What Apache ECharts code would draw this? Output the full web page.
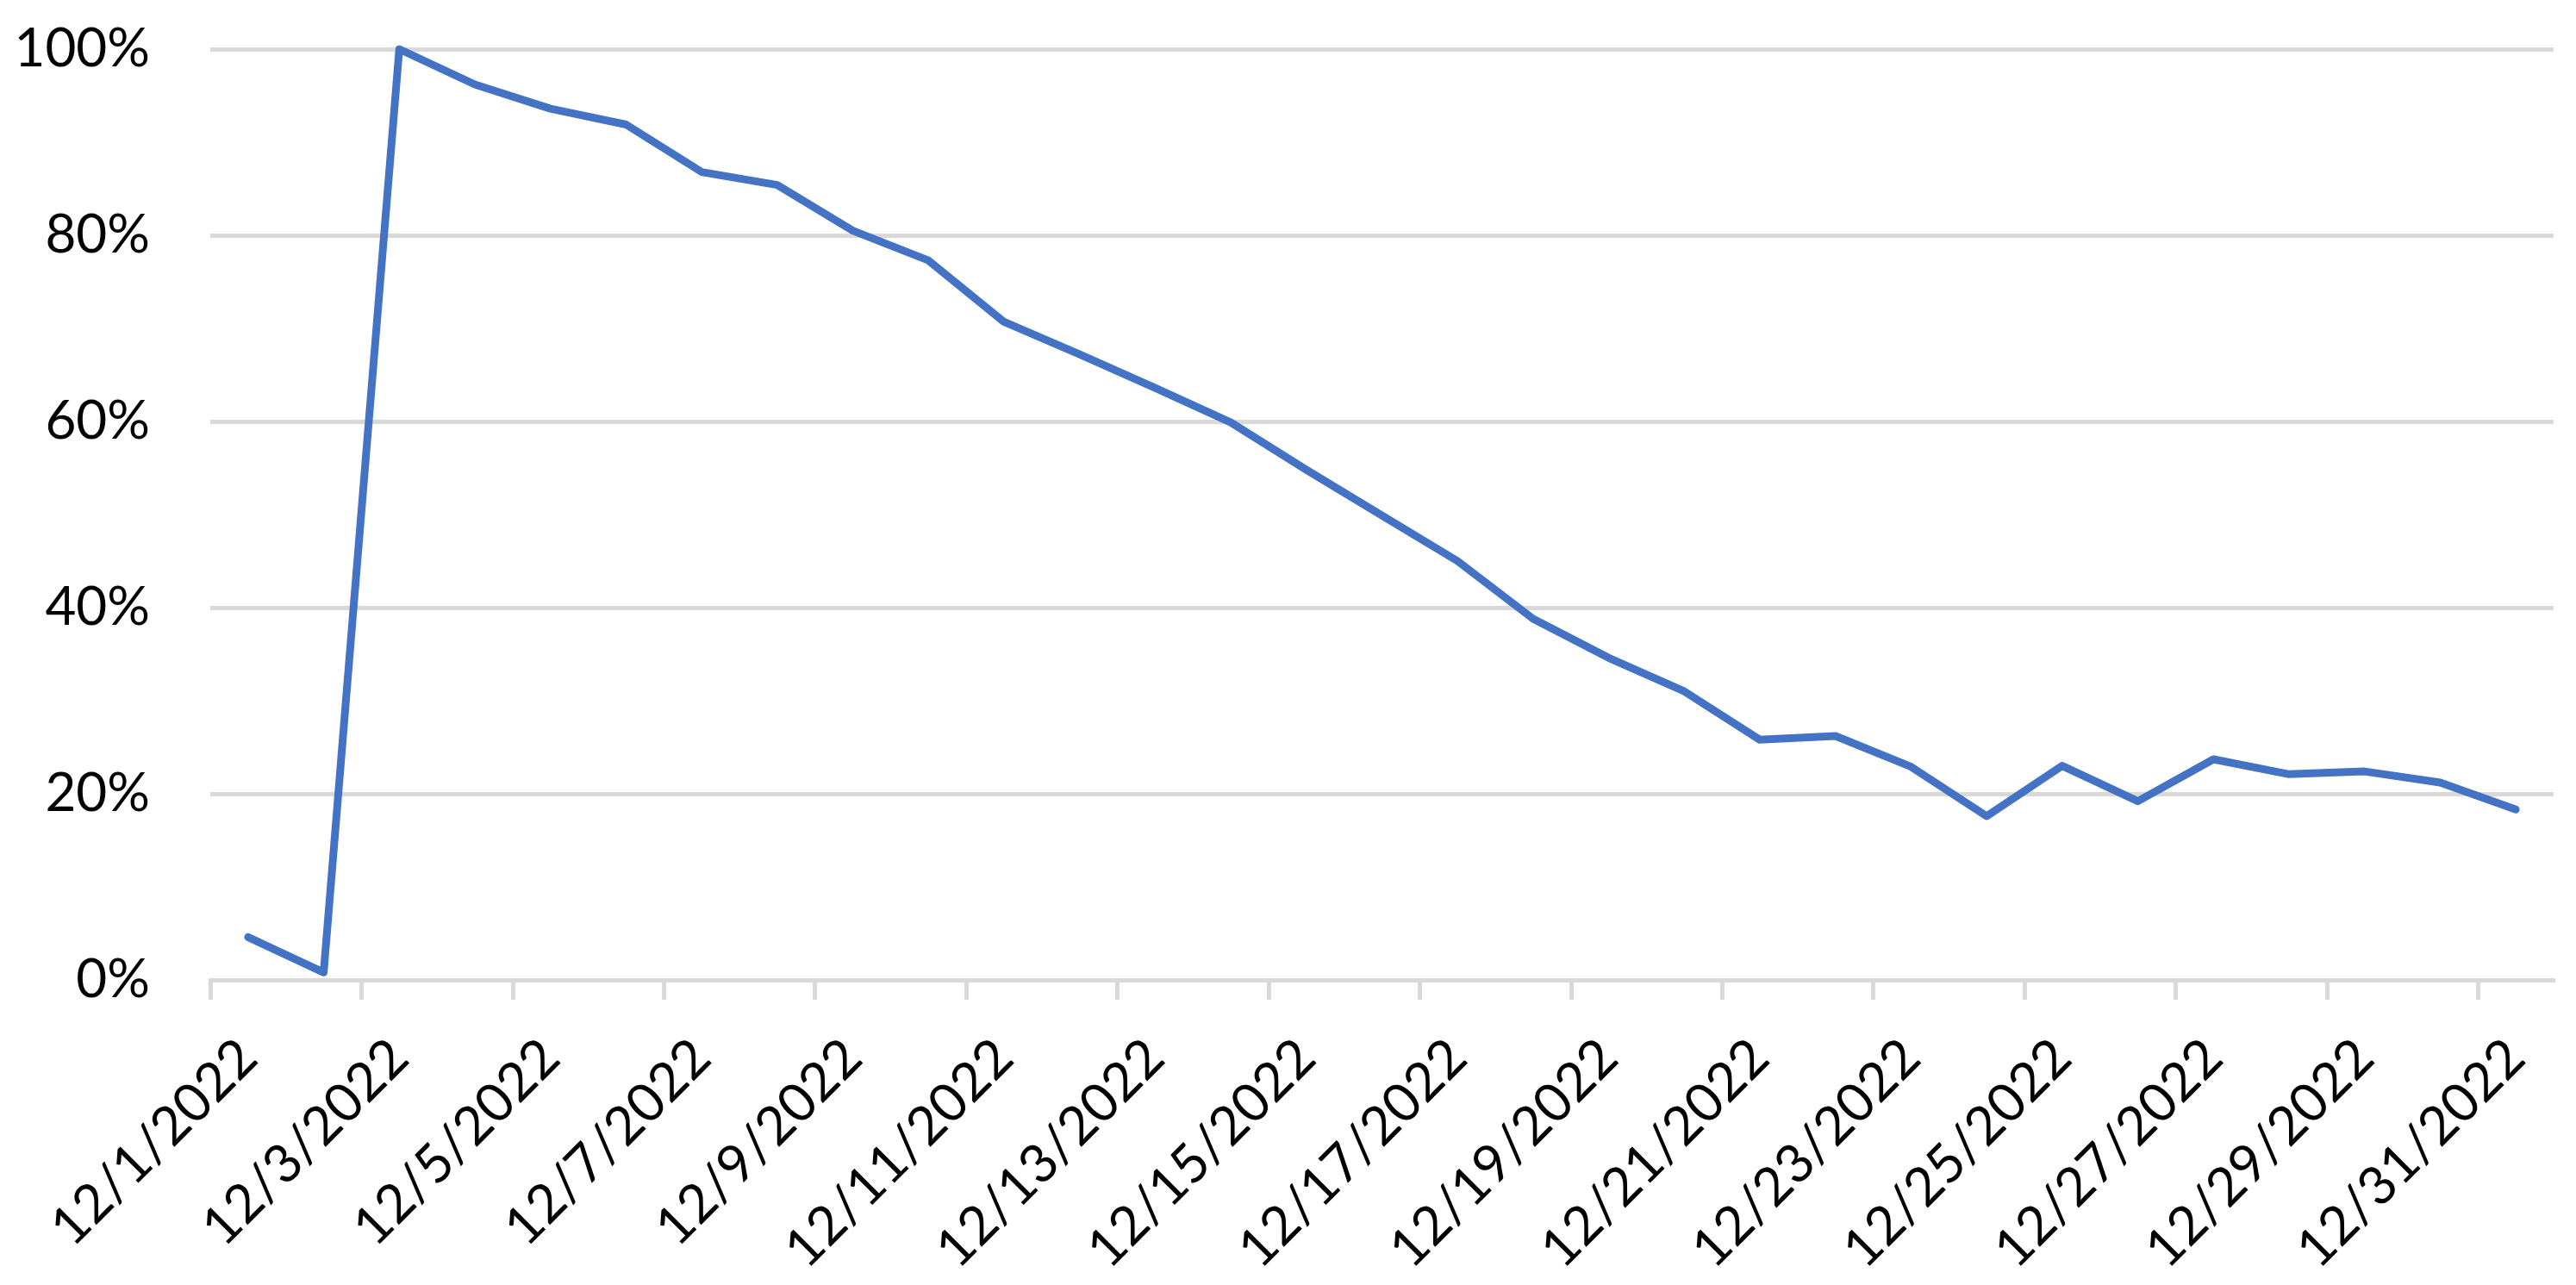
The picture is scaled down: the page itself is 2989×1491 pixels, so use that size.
<!DOCTYPE html>
<html>
<head>
<meta charset="utf-8">
<script src="https://cdn.jsdelivr.net/npm/echarts@6/dist/echarts.min.js"></script>
<style>
html,body{margin:0;padding:0;background:#fff;}
#chart{width:2989px;height:1491px;}
</style>
</head>
<body>
<div id="chart"></div>
<script>
const categories = [
  "12/1/2022","12/2/2022","12/3/2022","12/4/2022","12/5/2022","12/6/2022","12/7/2022",
  "12/8/2022","12/9/2022","12/10/2022","12/11/2022","12/12/2022","12/13/2022","12/14/2022",
  "12/15/2022","12/16/2022","12/17/2022","12/18/2022","12/19/2022","12/20/2022","12/21/2022",
  "12/22/2022","12/23/2022","12/24/2022","12/25/2022","12/26/2022","12/27/2022","12/28/2022",
  "12/29/2022","12/30/2022","12/31/2022"
];
const values = [
  4.6, 0.8, 100, 96.2, 93.6, 91.9, 86.8,
  85.4, 80.5, 77.3, 70.7, 67.2, 63.6, 59.9,
  54.8, 49.9, 45.0, 38.8, 34.6, 31.0, 25.8,
  26.2, 22.9, 17.6, 23.0, 19.2, 23.7, 22.1,
  22.4, 21.2, 18.3
];
const yTicks = [0, 20, 40, 60, 80, 100];
// tick marks sit on the left edge of every other day (12/1, 12/3, ... 12/31)
const xTickDays = categories.map((c, i) => i).filter(i => i % 2 === 0);

const gridColor = '#d9d9d9';
const chart = echarts.init(document.getElementById('chart'));
chart.setOption({
  animation: false,
  backgroundColor: '#ffffff',
  grid: { left: 244, right: 26, top: 57, bottom: 354, containLabel: false },
  xAxis: [{
    type: 'category',
    position: 'bottom',
    data: categories,
    boundaryGap: true,
    axisLine: { show: false },
    axisTick: { show: false },
    axisLabel: {
      interval: 1, rotate: 45, margin: 80,
      fontFamily: 'Lato', fontSize: 62, color: '#000000'
    },
    splitLine: { show: false }
  }, {
    type: 'value',
    position: 'bottom',
    min: 0, max: categories.length,
    axisLine: { show: true, lineStyle: { color: gridColor, width: 5, cap: 'round' } },
    axisTick: { show: true, customValues: xTickDays, length: 23, lineStyle: { color: gridColor, width: 5 } },
    axisLabel: { show: false },
    splitLine: { show: false }
  }],
  yAxis: {
    type: 'value',
    min: yTicks[0], max: yTicks[yTicks.length - 1], interval: 20,
    axisLine: { show: false },
    axisTick: { show: false },
    axisLabel: {
      margin: 70, fontFamily: 'Lato', fontSize: 62, color: '#000000',
      formatter: v => v + '%'
    },
    splitLine: { show: true, lineStyle: { color: gridColor, width: 5 } }
  },
  series: [{
    type: 'line',
    xAxisIndex: 0,
    data: values,
    showSymbol: false,
    symbol: 'none',
    lineStyle: { color: '#4472C4', width: 9, join: 'round', cap: 'round' },
    itemStyle: { color: '#4472C4' }
  }]
});
</script>
</body>
</html>
